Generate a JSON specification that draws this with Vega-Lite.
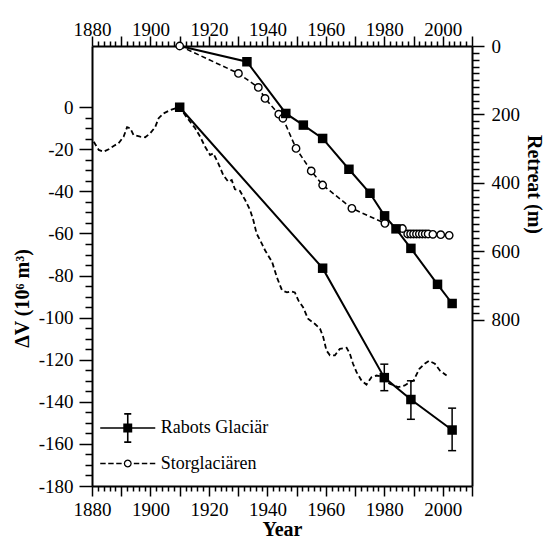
{
  "$schema": "https://vega.github.io/schema/vega-lite/v6.json",
  "width": 380,
  "height": 440,
  "autosize": {"type": "none"},
  "padding": {"left": 92, "top": 46, "right": 72, "bottom": 52},
  "background": "white",
  "config": {"view": {"stroke": null}, "font": "Liberation Serif"},
  "resolve": {"scale": {"y": "independent"}, "axis": {"x": "independent", "y": "independent"}},
  "layer": [
    {
      "data": {"values": [{"year": 1910, "dv": 0}, {"year": 1958.9, "dv": -76.5}, {"year": 1980, "dv": -128.5}, {"year": 1989.1, "dv": -138.9}, {"year": 2003.2, "dv": -153.4}]},
      "mark": {"type": "line", "color": "black", "strokeWidth": 2},
      "encoding": {
        "x": {"field": "year", "type": "quantitative", "scale": {"domain": [1880, 2010], "nice": false},
          "axis": {"orient": "bottom", "values": [1880,1882,1884,1886,1888,1890,1892,1894,1896,1898,1900,1902,1904,1906,1908,1910,1912,1914,1916,1918,1920,1922,1924,1926,1928,1930,1932,1934,1936,1938,1940,1942,1944,1946,1948,1950,1952,1954,1956,1958,1960,1962,1964,1966,1968,1970,1972,1974,1976,1978,1980,1982,1984,1986,1988,1990,1992,1994,1996,1998,2000,2002,2004,2006,2008,2010],
            "labelExpr": "datum.value % 20 == 0 && datum.value <= 2000 ? '' + datum.value : ''",
            "grid": false, "ticks": true, "tickColor": "black", "tickWidth": 1.5, "tickSize": 10,
            "tickDash": {"condition": {"test": "datum.value % 10 != 0", "value": [5, 30]}, "value": []},
            "labelColor": "black", "labelFontSize": 19, "labelPadding": 4, "labelFlush": false, "labelOverlap": false,
            "domainColor": "black", "domainWidth": 2,
            "title": "Year", "titleColor": "black", "titleFontSize": 20, "titleFontWeight": "bold", "titlePadding": 0}},
        "y": {"field": "dv", "type": "quantitative", "scale": {"domain": [-180, 29.1], "nice": false},
          "axis": {"orient": "left", "values": [-180,-175,-170,-165,-160,-155,-150,-145,-140,-135,-130,-125,-120,-115,-110,-105,-100,-95,-90,-85,-80,-75,-70,-65,-60,-55,-50,-45,-40,-35,-30,-25,-20,-15,-10,-5,0],
            "labelExpr": "datum.value % 20 == 0 ? '' + datum.value : ''",
            "grid": false, "ticks": true, "tickColor": "black", "tickWidth": 1.5, "tickSize": 13,
            "tickDash": {"condition": {"test": "datum.value % 20 != 0", "value": [7, 30]}, "value": []},
            "labelColor": "black", "labelFontSize": 19, "labelPadding": 6, "labelFlush": false, "labelOverlap": false,
            "domainColor": "black", "domainWidth": 2,
            "title": "ΔV (10⁶ m³)", "titleColor": "black", "titleFontSize": 20, "titleFontWeight": "bold",
            "titleX": -70, "titleY": 252, "titleBaseline": "middle", "titleAlign": "center", "titleAngle": -90}}
      }
    },
    {
      "data": {"values": [
        {"year": 1880.6, "dv": -16.4}, {"year": 1882.3, "dv": -20.3}, {"year": 1884.0, "dv": -21.1}, {"year": 1885.7, "dv": -20.0},
        {"year": 1887.4, "dv": -18.4}, {"year": 1889.1, "dv": -17.1}, {"year": 1890.8, "dv": -14.0}, {"year": 1892.0, "dv": -9.5},
        {"year": 1893.1, "dv": -10.0}, {"year": 1894.2, "dv": -13.2}, {"year": 1896.5, "dv": -14.0}, {"year": 1898.2, "dv": -14.3},
        {"year": 1899.9, "dv": -12.4}, {"year": 1901.6, "dv": -9.5}, {"year": 1902.8, "dv": -5.2}, {"year": 1904.5, "dv": -2.9},
        {"year": 1906.8, "dv": -1.3}, {"year": 1908.5, "dv": -0.5}, {"year": 1910, "dv": 0}, {"year": 1912.5, "dv": -5},
        {"year": 1915.3, "dv": -10}, {"year": 1917, "dv": -14}, {"year": 1918.7, "dv": -18.8}, {"year": 1920.4, "dv": -22.7},
        {"year": 1921.5, "dv": -21.9}, {"year": 1923.2, "dv": -26.7}, {"year": 1924.9, "dv": -32.2}, {"year": 1926.6, "dv": -35.4},
        {"year": 1927.8, "dv": -34.6}, {"year": 1928.9, "dv": -39}, {"year": 1930.6, "dv": -39.7}, {"year": 1932.4, "dv": -44.1},
        {"year": 1934.1, "dv": -48.9}, {"year": 1935.2, "dv": -53.7}, {"year": 1936.3, "dv": -60}, {"year": 1938.1, "dv": -64.8},
        {"year": 1939.2, "dv": -68}, {"year": 1941.6, "dv": -73.5}, {"year": 1943.3, "dv": -81}, {"year": 1945, "dv": -87},
        {"year": 1946.7, "dv": -88}, {"year": 1948, "dv": -87.5}, {"year": 1949.4, "dv": -88}, {"year": 1950.6, "dv": -91.8},
        {"year": 1952.2, "dv": -95}, {"year": 1953.9, "dv": -100.5}, {"year": 1956.2, "dv": -102.9}, {"year": 1958, "dv": -105.2},
        {"year": 1959.1, "dv": -109.2}, {"year": 1960.2, "dv": -115.6}, {"year": 1961.4, "dv": -117.9}, {"year": 1963.1, "dv": -117.9},
        {"year": 1964.8, "dv": -114.8}, {"year": 1967.1, "dv": -114.3}, {"year": 1968.2, "dv": -117.1}, {"year": 1969.3, "dv": -121.9},
        {"year": 1970.5, "dv": -125.9}, {"year": 1972.2, "dv": -129.9}, {"year": 1973.9, "dv": -131.8}, {"year": 1975.6, "dv": -128.3},
        {"year": 1977.3, "dv": -127.5}, {"year": 1979, "dv": -128}, {"year": 1981.8, "dv": -131.4}, {"year": 1984.7, "dv": -133},
        {"year": 1987, "dv": -132.2}, {"year": 1988.7, "dv": -130.7}, {"year": 1990, "dv": -129.9}, {"year": 1992, "dv": -124.3},
        {"year": 1993.8, "dv": -121.9}, {"year": 1995.3, "dv": -120.5}, {"year": 1997.3, "dv": -121.9}, {"year": 1999, "dv": -125.1},
        {"year": 2001.3, "dv": -127.5}]},
      "mark": {"type": "line", "color": "black", "strokeWidth": 1.8, "strokeDash": [5, 3]},
      "encoding": {
        "x": {"field": "year", "type": "quantitative", "axis": null},
        "y": {"field": "dv", "type": "quantitative", "scale": {"domain": [-180, 29.1], "nice": false}, "axis": null}
      }
    },
    {
      "data": {"values": [{"year": 1910, "retreat": 0}, {"year": 1933, "retreat": 46}, {"year": 1946.3, "retreat": 197}, {"year": 1952.3, "retreat": 231},
        {"year": 1958.9, "retreat": 270}, {"year": 1967.9, "retreat": 360}, {"year": 1975.1, "retreat": 430}, {"year": 1980.1, "retreat": 496},
        {"year": 1984, "retreat": 534}, {"year": 1989.1, "retreat": 591}, {"year": 1998.2, "retreat": 696}, {"year": 2003.2, "retreat": 752}]},
      "mark": {"type": "line", "color": "black", "strokeWidth": 2},
      "encoding": {
        "x": {"field": "year", "type": "quantitative", "scale": {"domain": [1880, 2010], "nice": false},
          "axis": {"orient": "top", "values": [1880,1882,1884,1886,1888,1890,1892,1894,1896,1898,1900,1902,1904,1906,1908,1910,1912,1914,1916,1918,1920,1922,1924,1926,1928,1930,1932,1934,1936,1938,1940,1942,1944,1946,1948,1950,1952,1954,1956,1958,1960,1962,1964,1966,1968,1970,1972,1974,1976,1978,1980,1982,1984,1986,1988,1990,1992,1994,1996,1998,2000,2002,2004,2006,2008,2010],
            "labelExpr": "datum.value % 20 == 0 && datum.value <= 2000 ? '' + datum.value : ''",
            "grid": false, "ticks": true, "tickColor": "black", "tickWidth": 1.5, "tickSize": 10,
            "tickDash": {"condition": {"test": "datum.value % 10 != 0", "value": [5, 30]}, "value": []},
            "labelColor": "black", "labelFontSize": 19, "labelPadding": -3, "labelFlush": false, "labelOverlap": false,
            "domainColor": "black", "domainWidth": 2, "title": null}},
        "y": {"field": "retreat", "type": "quantitative", "scale": {"domain": [1285, 0], "nice": false},
          "axis": {"orient": "right", "values": [0,20,40,60,80,100,120,140,160,180,200,220,240,260,280,300,320,340,360,380,400,420,440,460,480,500,520,540,560,580,600,620,640,660,680,700,720,740,760,780,800],
            "labelExpr": "datum.value % 200 == 0 ? '' + datum.value : ''",
            "grid": false, "ticks": true, "tickColor": "black", "tickWidth": 1.5, "tickSize": 12,
            "tickDash": {"condition": {"test": "datum.value % 200 != 0", "value": [7, 30]}, "value": []},
            "labelColor": "black", "labelFontSize": 19, "labelPadding": 7, "labelFlush": false, "labelOverlap": false,
            "domainColor": "black", "domainWidth": 2,
            "title": "Retreat (m)", "titleColor": "black", "titleFontSize": 20, "titleFontWeight": "bold",
            "titleX": 61, "titleY": 138, "titleBaseline": "middle", "titleAlign": "center", "titleAngle": 90}}
      }
    },
    {
      "data": {"values": [{"year": 1910, "retreat": 0}, {"year": 1930.1, "retreat": 80}, {"year": 1936.9, "retreat": 121}, {"year": 1939.2, "retreat": 153},
        {"year": 1943.9, "retreat": 199}, {"year": 1945.3, "retreat": 211}, {"year": 1949.8, "retreat": 299}, {"year": 1955, "retreat": 365},
        {"year": 1958.9, "retreat": 406}, {"year": 1968.9, "retreat": 474}, {"year": 1980.2, "retreat": 518}, {"year": 1986.2, "retreat": 533},
        {"year": 1988, "retreat": 549}, {"year": 1989, "retreat": 549}, {"year": 1990, "retreat": 549}, {"year": 1991, "retreat": 549},
        {"year": 1992, "retreat": 549}, {"year": 1993, "retreat": 549}, {"year": 1994, "retreat": 549}, {"year": 1995, "retreat": 549},
        {"year": 1996.6, "retreat": 550}, {"year": 1999.3, "retreat": 551}, {"year": 2002.2, "retreat": 553}]},
      "layer": [
        {
          "mark": {"type": "line", "color": "black", "strokeWidth": 1.6, "strokeDash": [5, 3]},
          "encoding": {
            "x": {"field": "year", "type": "quantitative", "axis": null},
            "y": {"field": "retreat", "type": "quantitative", "scale": {"domain": [1285, 0], "nice": false}, "axis": null}
          }
        },
        {
          "mark": {"type": "point", "shape": "circle", "filled": true, "fill": "white", "stroke": "black", "strokeWidth": 1.4, "size": 55, "opacity": 1},
          "encoding": {
            "x": {"field": "year", "type": "quantitative", "axis": null},
            "y": {"field": "retreat", "type": "quantitative", "axis": null}
          }
        }
      ]
    },
    {
      "data": {"values": [{"year": 1980, "lo": -134.7, "hi": -122.1}, {"year": 1989.1, "lo": -148.3, "hi": -130}, {"year": 2003.2, "lo": -163.2, "hi": -143}]},
      "transform": [{"fold": ["lo", "hi"], "as": ["end", "v"]}],
      "layer": [
        {"mark": {"type": "line", "color": "black", "strokeWidth": 1.5},
         "encoding": {"x": {"field": "year", "type": "quantitative", "axis": null},
           "y": {"field": "v", "type": "quantitative", "scale": {"domain": [-180, 29.1], "nice": false}, "axis": null},
           "detail": {"field": "year", "type": "nominal"}}},
        {"mark": {"type": "point", "shape": "stroke", "filled": false, "color": "black", "strokeWidth": 1.5, "size": 64, "opacity": 1},
         "encoding": {"x": {"field": "year", "type": "quantitative", "axis": null},
           "y": {"field": "v", "type": "quantitative", "axis": null}}}
      ]
    },
    {
      "data": {"values": [{"year": 1910, "dv": 0}, {"year": 1958.9, "dv": -76.5}, {"year": 1980, "dv": -128.5}, {"year": 1989.1, "dv": -138.9}, {"year": 2003.2, "dv": -153.4}]},
      "mark": {"type": "point", "shape": "square", "filled": true, "color": "black", "size": 90, "opacity": 1},
      "encoding": {
        "x": {"field": "year", "type": "quantitative", "axis": null},
        "y": {"field": "dv", "type": "quantitative", "scale": {"domain": [-180, 29.1], "nice": false}, "axis": null}
      }
    },
    {
      "data": {"values": [{"year": 1933, "retreat": 46}, {"year": 1946.3, "retreat": 197}, {"year": 1952.3, "retreat": 231},
        {"year": 1958.9, "retreat": 270}, {"year": 1967.9, "retreat": 360}, {"year": 1975.1, "retreat": 430}, {"year": 1980.1, "retreat": 496},
        {"year": 1984, "retreat": 534}, {"year": 1989.1, "retreat": 591}, {"year": 1998.2, "retreat": 696}, {"year": 2003.2, "retreat": 752}]},
      "mark": {"type": "point", "shape": "square", "filled": true, "color": "black", "size": 90, "opacity": 1},
      "encoding": {
        "x": {"field": "year", "type": "quantitative", "axis": null},
        "y": {"field": "retreat", "type": "quantitative", "scale": {"domain": [1285, 0], "nice": false}, "axis": null}
      }
    },
    {
      "data": {"values": [{"series": "Rabots Glaciär"}, {"series": "Storglaciären"}]},
      "mark": {"type": "point", "filled": true, "color": "black", "opacity": 1},
      "encoding": {
        "x": {"field": "year", "type": "quantitative", "axis": null},
        "y": {"field": "dv", "type": "quantitative", "scale": {"domain": [-180, 29.1], "nice": false}, "axis": null},
        "shape": {"field": "series", "type": "nominal",
          "scale": {"domain": ["Rabots Glaciär", "Storglaciären"],
            "range": ["M-1.72,-0.05H1.72V0.05H-1.72ZM-0.28,-0.28H0.28V0.28H-0.28ZM-0.05,-0.88H0.05V0.88H-0.05ZM-0.22,-0.93H0.22V-0.83H-0.22ZM-0.22,0.83H0.22V0.93H-0.22Z",
                      "M-1.72,-0.05H-1.38V0.05H-1.72ZM-1.22,-0.05H-0.88V0.05H-1.22ZM-0.72,-0.05H-0.38V0.05H-0.72ZM0.38,-0.05H0.72V0.05H0.38ZM0.88,-0.05H1.22V0.05H0.88ZM1.38,-0.05H1.72V0.05H1.38ZM0.25,0L0.217,0.125L0.125,0.217L0,0.25L-0.125,0.217L-0.217,0.125L-0.25,0L-0.217,-0.125L-0.125,-0.217L0,-0.25L0.125,-0.217L0.217,-0.125ZM0.17,0L0.147,-0.085L0.085,-0.147L0,-0.17L-0.085,-0.147L-0.147,-0.085L-0.17,0L-0.147,0.085L-0.085,0.147L0,0.17L0.085,0.147L0.147,0.085Z"]},
          "legend": {"title": null, "orient": "none", "legendX": 18.75, "legendY": 365, "padding": 0, "symbolSize": 1024, "symbolFillColor": "black",
            "labelFontSize": 18, "labelColor": "black", "labelOffset": 16, "rowPadding": 0.5, "labelLimit": 300}}
      }
    }
  ]
}
